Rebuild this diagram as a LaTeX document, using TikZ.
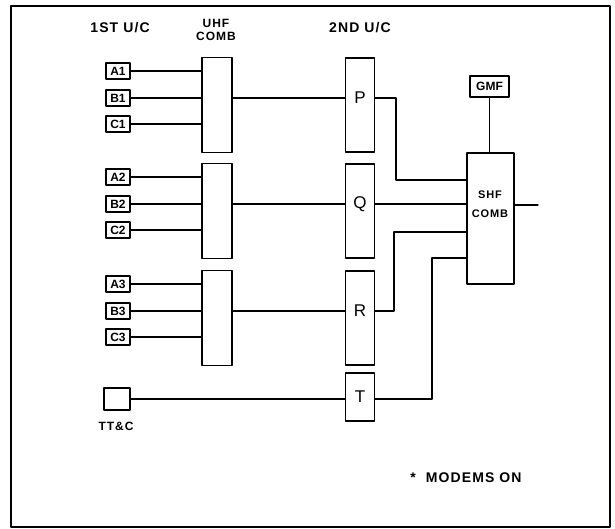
\documentclass[tikz,border=0pt]{standalone}
\usepackage{fontspec}
\setmainfont{Liberation Sans}
\newfontfamily\plotfont[LetterSpace=8]{Liberation Sans}
\usetikzlibrary{positioning}
\tikzset{
  frame/.style={draw, line width=1.5pt},
  wire/.style={line width=1.1pt},
  chan/.style={draw, line width=1.2pt, minimum width=24pt, minimum height=16pt, inner sep=0pt, font=\fontsize{12}{12}\selectfont\bfseries},
  comb/.style={draw, line width=1.2pt, minimum width=30pt, minimum height=95pt, inner sep=0pt},
  conv/.style={draw, line width=1.2pt, minimum width=29pt, minimum height=94pt, inner sep=0pt},
  head/.style={font=\plotfont\fontsize{14}{16}\selectfont\bfseries},
  headsm/.style={font=\plotfont\fontsize{12}{13}\selectfont\bfseries, align=center},
  big/.style={font=\fontsize{17}{18}\selectfont}
}

\begin{document}
\begin{tikzpicture}[x=1pt, y=-1pt, line cap=round, line join=round]
  \useasboundingbox (0,0) rectangle (615,529);

  % outer frame
  \draw[frame] (11,6) rectangle (610,527);

  % column heads
  \node[head] (h1) at (120,28) {1ST U/C};
  \node[headsm] (h2) at (216,30) {UHF\\COMB};
  \node[head] (h3) at (360,28) {2ND U/C};

  % three groups: first U/C -> UHF comb -> second U/C
  \foreach \g/\y/\c in {1/71/P, 2/177/Q, 3/284/R}{
    \node[chan] (a\g) at (118,\y) {A\g};
    \node[chan] (b\g) at (118,\y+27) {B\g};
    \node[chan] (c\g) at (118,\y+53) {C\g};
    \node[comb] (u\g) at (217,\y+34) {};
    \node[conv] (v\g) at (360,\y+34) {};
    \node[big] (l\g) at (v\g.center |- b\g) {\c};
    \foreach \k in {a,b,c}
      \draw[wire] (\k\g.east) -- (\k\g.east -| u\g.west);
    \draw[wire] (u\g.east |- b\g) -- (v\g.west |- b\g);
  }

  % TT&C channel
  \node[draw, line width=1.2pt, minimum width=26pt, minimum height=22pt, inner sep=0pt] (ttc) at (117,399) {};
  \node[headsm] (ttcl) at (116,426) {TT\&C};
  \node[conv, minimum height=48pt, big] (t) at (360,397) {T};
  \draw[wire] (ttc.east) -- (ttc.east -| t.west);

  % SHF combiner and GMF
  \node[draw, line width=1.2pt, minimum width=47pt, minimum height=131pt, inner sep=0pt] (shf) at (490.5,218.5) {};
  \node[font=\plotfont\fontsize{11}{13}\selectfont\bfseries, align=center] (shfl) at (490,204) {SHF\\[6pt]COMB};
  \node[draw, line width=1.2pt, minimum width=39pt, minimum height=21pt, inner sep=0pt, font=\fontsize{12}{13}\selectfont\bfseries] (gmf) at (489.5,86.5) {GMF};
  \draw[wire] (gmf.south) -- (gmf.south |- shf.north);

  % second U/C outputs into SHF comb
  \coordinate (pj) at (396,180);
  \coordinate (rj) at (394,232);
  \coordinate (tj) at (432,258);
  \coordinate (out) at (538,205);
  \draw[wire] (v1.east |- b1) -| (pj) -- (pj -| shf.west);
  \draw[wire] (v2.east |- b2) -- (shf.west |- b2);
  \draw[wire] (v3.east |- b3) -| (rj) -- (rj -| shf.west);
  \draw[wire] (t.east |- ttc) -| (tj) -- (tj -| shf.west);
  \draw[wire] (shf.east |- out) -- (out);

  % note
  \node[head] (note) at (466,478) {*\ \ MODEMS\ ON};
\end{tikzpicture}
\end{document}
